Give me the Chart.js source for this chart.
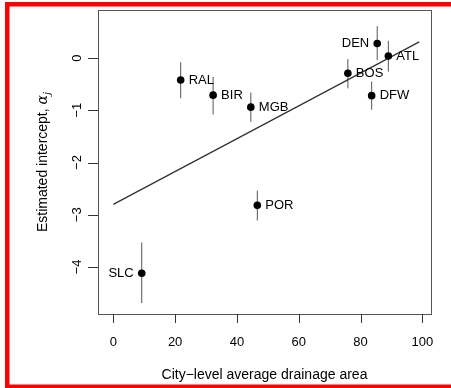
<!DOCTYPE html>
<html>
<head>
<meta charset="utf-8">
<style>
html,body{margin:0;padding:0;background:#fff;}
canvas{display:block;}
</style>
<script src="https://cdn.jsdelivr.net/npm/chart.js@4"></script>
</head>
<body>
<canvas id="c" width="451" height="388"></canvas>
<script>
// city-level intercepts with their intervals
const cities   = ['RAL', 'BIR', 'MGB', 'DEN', 'ATL', 'BOS', 'DFW', 'POR', 'SLC'];
const drainage = [21.8, 32.3, 44.5, 85.4, 89.0, 75.9, 83.6, 46.6, 9.2];
const alpha    = [-0.42, -0.71, -0.94, 0.28, 0.04, -0.29, -0.72, -2.82, -4.12];
const alphaLo  = [-0.77, -1.08, -1.22, -0.04, -0.26, -0.58, -0.99, -3.11, -4.69];
const alphaHi  = [-0.08, -0.36, -0.66, 0.61, 0.33, -0.02, -0.45, -2.54, -3.53];

// fitted line end points
const fitX = [0, 99];
const fitY = [-2.80, 0.31];

const xTicks = [0, 20, 40, 60, 80, 100];
const yTicks = [0, -1, -2, -3, -4];

const leftLabelled = ['DEN', 'SLC'];
const FONT = '"Liberation Sans", Arial, sans-serif';

function minus(v){ return (''+v).replace('-', '\u2212'); }

const frame = {
	id: 'frame',
	beforeDraw(chart){
		const ctx = chart.ctx;
		ctx.save();
		ctx.fillStyle = '#fff';
		ctx.fillRect(0, 0, chart.width, chart.height);
		ctx.fillStyle = '#ff0000';
		ctx.fillRect(5, 2, 4.5, 386);
		ctx.fillRect(5, 2, 446, 4.5);
		ctx.fillRect(5, 384.5, 446, 3.5);
		ctx.restore();
	},
	beforeDatasetsDraw(chart){
		// error bars for each city
		const ctx = chart.ctx, x = chart.scales.x, y = chart.scales.y;
		ctx.save();
		ctx.strokeStyle = '#555';
		ctx.lineWidth = 1;
		for(let i = 0; i < cities.length; i++){
			const px = x.getPixelForValue(drainage[i]);
			ctx.beginPath();
			ctx.moveTo(px, y.getPixelForValue(alphaLo[i]));
			ctx.lineTo(px, y.getPixelForValue(alphaHi[i]));
			ctx.stroke();
		}
		ctx.restore();
	},
	afterDraw(chart){
		const ctx = chart.ctx, x = chart.scales.x, y = chart.scales.y, a = chart.chartArea;
		ctx.save();
		// box
		ctx.strokeStyle = '#555';
		ctx.lineWidth = 1;
		ctx.strokeRect(a.left + 0.5, a.top + 0.5, a.right - a.left, a.bottom - a.top);

		ctx.strokeStyle = '#333';
		ctx.fillStyle = '#000';
		ctx.font = '13px ' + FONT;

		// x axis
		ctx.textAlign = 'center';
		ctx.textBaseline = 'middle';
		ctx.beginPath();
		for(const t of xTicks){
			const px = Math.round(x.getPixelForValue(t)) + 0.5;
			ctx.moveTo(px, a.bottom);
			ctx.lineTo(px, a.bottom + 9);
		}
		ctx.stroke();
		for(const t of xTicks) ctx.fillText(minus(t), x.getPixelForValue(t), a.bottom + 28);

		// y axis, labels turned
		ctx.beginPath();
		for(const t of yTicks){
			const py = Math.round(y.getPixelForValue(t)) + 0.5;
			ctx.moveTo(a.left - 10, py);
			ctx.lineTo(a.left, py);
		}
		ctx.stroke();
		for(const t of yTicks){
			ctx.save();
			ctx.translate(a.left - 21, y.getPixelForValue(t));
			ctx.rotate(-Math.PI / 2);
			ctx.fillText(minus(t), 0, 0);
			ctx.restore();
		}

		// titles
		ctx.font = '14px ' + FONT;
		ctx.fillText('City\u2212level average drainage area', (a.left + a.right) / 2, 375);

		ctx.save();
		ctx.translate(43, (a.top + a.bottom) / 2);
		ctx.rotate(-Math.PI / 2);
		const p1 = 'Estimated intercept, ';
		ctx.font = '14px ' + FONT;
		const w1 = ctx.measureText(p1).width;
		ctx.font = 'italic 14px "DejaVu Serif", serif';
		const w2 = ctx.measureText('\u03b1').width;
		ctx.font = 'italic 10px "DejaVu Serif", serif';
		const w3 = ctx.measureText('j').width;
		let sx = -(w1 + w2 + w3) / 2;
		ctx.textAlign = 'left';
		ctx.font = '14px ' + FONT;
		ctx.fillText(p1, sx, 0);
		ctx.font = 'italic 14px "DejaVu Serif", serif';
		ctx.fillText('\u03b1', sx + w1, 0);
		ctx.font = 'italic 10px "DejaVu Serif", serif';
		ctx.fillText('j', sx + w1 + w2, 4);
		ctx.restore();

		// city names
		ctx.font = '13px ' + FONT;
		for(let i = 0; i < cities.length; i++){
			const px = x.getPixelForValue(drainage[i]);
			const py = y.getPixelForValue(alpha[i]);
			if(leftLabelled.includes(cities[i])){
				ctx.textAlign = 'right';
				ctx.fillText(cities[i], px - 8, py);
			}else{
				ctx.textAlign = 'left';
				ctx.fillText(cities[i], px + 8, py);
			}
		}
		ctx.restore();
	}
};

new Chart(document.getElementById('c'), {
	type: 'scatter',
	data: {
		datasets: [{
			data: drainage.map((d, i) => ({x: d, y: alpha[i]})),
			pointRadius: 3.8,
			pointBackgroundColor: '#000',
			pointBorderWidth: 0
		},{
			type: 'line',
			data: fitX.map((d, i) => ({x: d, y: fitY[i]})),
			borderColor: '#333',
			borderWidth: 1.3,
			pointRadius: 0,
			fill: false
		}]
	},
	options: {
		responsive: false,
		animation: false,
		layout: {padding: {left: 98, top: 10, right: 20, bottom: 74}},
		scales: {
			x: {type: 'linear', min: -4.95, max: 102.8, display: false},
			y: {type: 'linear', min: -4.9, max: 0.92, display: false}
		},
		plugins: {legend: {display: false}, tooltip: {enabled: false}}
	},
	plugins: [frame]
});
</script>
</body>
</html>
